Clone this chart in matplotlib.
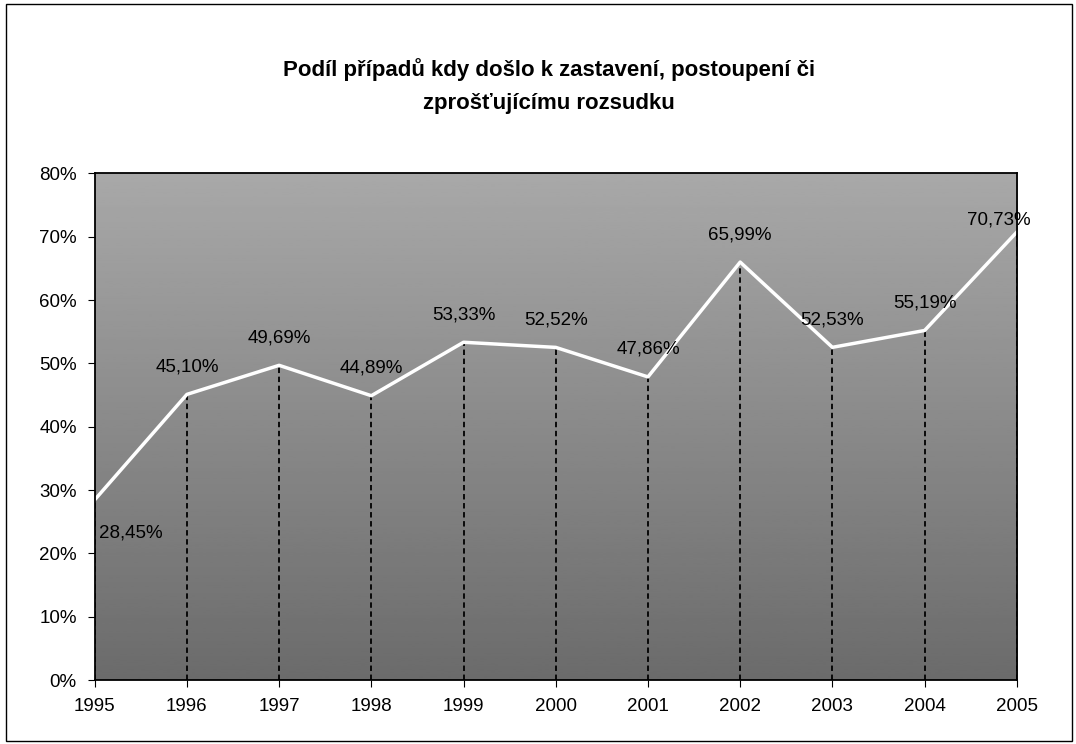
import matplotlib.pyplot as plt
import numpy as np

plt.rcParams['font.family'] = ['Liberation Sans', 'DejaVu Sans']

# data
years = [1995, 1996, 1997, 1998, 1999, 2000, 2001, 2002, 2003, 2004, 2005]
share = [28.45, 45.10, 49.69, 44.89, 53.33, 52.52, 47.86, 65.99, 52.53, 55.19, 70.73]
labels = ['28,45%', '45,10%', '49,69%', '44,89%', '53,33%', '52,52%',
          '47,86%', '65,99%', '52,53%', '55,19%', '70,73%']
yticks = [0, 10, 20, 30, 40, 50, 60, 70, 80]

fig = plt.figure(figsize=(10.76, 7.44), dpi=100)
ax = fig.add_axes([0.088, 0.086, 0.857, 0.681])

# gray background, lighter at the top, darker towards the bottom
grad = np.linspace(0.66, 0.42, 200).reshape(-1, 1)
ax.imshow(grad, cmap='gray', vmin=0, vmax=1, aspect='auto',
          extent=[1995, 2005, 0, 80], origin='upper', zorder=0)

# drop lines
ax.vlines(years, 0, share, colors='black', linestyles=(0, (3, 2)),
          linewidth=1.3, zorder=1)

ax.plot(years, share, color='white', linewidth=2.5, zorder=2, clip_on=False)

for i, (x, y, t) in enumerate(zip(years, share, labels)):
    ha, dx, dy = 'center', 0, 3.0
    if i == 0:
        ha, dx, dy = 'left', 0.05, -6.5
    elif i == len(years) - 1:
        ha, dx, dy = 'right', 0.15, 0.6
    ax.text(x + dx, y + dy, t, ha=ha, va='bottom', fontsize=13.5,
            color='black', zorder=3, clip_on=False)

ax.set_xlim(1995, 2005)
ax.set_ylim(0, 80)
ax.set_xticks(years)
ax.set_xticklabels([str(y) for y in years])
ax.set_yticks(yticks)
ax.set_yticklabels([f'{v}%' for v in yticks])
ax.tick_params(axis='both', direction='out', length=5, labelsize=13.5, pad=8)
for s in ax.spines.values():
    s.set_linewidth(1.3)

fig.text(0.51, 0.885, 'Podíl případů kdy došlo k zastavení, postoupení či\nzprošťujícímu rozsudku',
         ha='center', va='center', fontsize=16, fontweight='bold', linespacing=1.75)

# outer frame
fig.add_artist(plt.Rectangle((0.006, 0.004), 0.99, 0.99, fill=False,
                             edgecolor='black', linewidth=1,
                             transform=fig.transFigure))

fig.savefig('out.png', dpi=100)
